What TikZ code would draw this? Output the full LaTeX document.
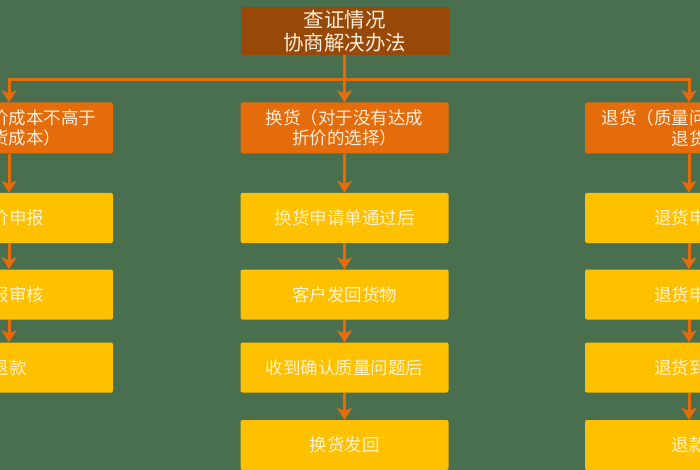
\documentclass[tikz,border=0pt]{standalone}
\usepackage{fontspec}
\setmainfont{Noto Sans CJK SC}
\usetikzlibrary{arrows.meta}
\usetikzlibrary{calc}

\definecolor{bggreen}{HTML}{4A6F4F}
\definecolor{topbrown}{HTML}{984807}
\definecolor{boxorange}{HTML}{E46C0A}
\definecolor{boxyellow}{HTML}{FFC000}
\definecolor{textcream}{HTML}{FDEEDC}
\definecolor{stepcream}{HTML}{FFF2CF}

\tikzset{
  headbox/.style={fill=topbrown, text=textcream, minimum width=208pt, minimum height=48pt,
    inner sep=0pt, align=center, font=\fontsize{20.5}{23}\selectfont},
  kindbox/.style={fill=boxorange, text=textcream, rounded corners=1.5pt, minimum width=208pt,
    minimum height=51pt, inner sep=0pt, align=center, font=\fontsize{17.5}{20.5}\selectfont},
  stepbox/.style={fill=boxyellow, text=stepcream, rounded corners=2pt, minimum width=208pt,
    minimum height=50pt, inner sep=0pt, align=center, font=\fontsize{17.5}{20.5}\selectfont},
  flow/.style={draw=boxorange, line width=3pt, -{Stealth[length=12pt,width=15pt,inset=3pt]}},
}

\begin{document}
\begin{tikzpicture}[x=1pt,y=-1pt]
    \useasboundingbox (0,0) rectangle (700,470);
    \fill[bggreen] (0,0) rectangle (700,470);

    \coordinate (leftcol) at (9,0);
    \coordinate (midcol) at (344.5,0);
    \coordinate (rightcol) at (689,0);

    \node[headbox] (check) at ($(midcol)+(0,31)$) {查证情况\\协商解决办法};

    % three ways
    \node[kindbox] (discount) at ($(leftcol)+(0,128)$) {\hspace*{4em}价成本不高于\\\hspace*{2em}货成本）};
    \node[kindbox] (exchange) at ($(midcol)+(0,128)$) {换货（对于没有达成\\折价的选择）};
    \node[kindbox] (giveback) at ($(rightcol)+(0,128)$) {退货（质量问\hspace*{4em}\\退货};

    % left steps
    \node[stepbox] (discounta) at ($(leftcol)+(0,218)$) {\hspace*{1em}价申报};
    \node[stepbox] (discountb) at ($(leftcol)+(0,294.5)$) {\hspace*{1em}报审核};
    \node[stepbox] (discountc) at ($(leftcol)+(0,367.5)$) {退款};

    % middle steps
    \node[stepbox] (exchangea) at ($(midcol)+(0,218)$) {换货申请单通过后};
    \node[stepbox] (exchangeb) at ($(midcol)+(0,294.5)$) {客户发回货物};
    \node[stepbox] (exchangec) at ($(midcol)+(0,367.5)$) {收到确认质量问题后};
    \node[stepbox] (exchanged) at ($(midcol)+(0,445)$) {换货发回};

    % right steps
    \node[stepbox] (givebacka) at ($(rightcol)+(0,218)$) {退货申\hspace*{1em}};
    \node[stepbox] (givebackb) at ($(rightcol)+(0,294.5)$) {退货申\hspace*{1em}};
    \node[stepbox] (givebackc) at ($(rightcol)+(0,367.5)$) {退货到\hspace*{1em}};
    \node[stepbox] (givebackd) at ($(rightcol)+(0,445)$) {退款};

    \coordinate (split) at ($(midcol)+(0,80)$);
    \draw[flow] (check.south) -- (exchange.north);
    \draw[flow] (split) -| (discount.north);
    \draw[flow] (split) -| (giveback.north);

    \foreach \a/\b in {discount/discounta, discounta/discountb, discountb/discountc,
        exchange/exchangea, exchangea/exchangeb, exchangeb/exchangec, exchangec/exchanged,
        giveback/givebacka, givebacka/givebackb, givebackb/givebackc, givebackc/givebackd}
        \draw[flow] (\a.south) -- (\b.north);

\end{tikzpicture}
\end{document}
